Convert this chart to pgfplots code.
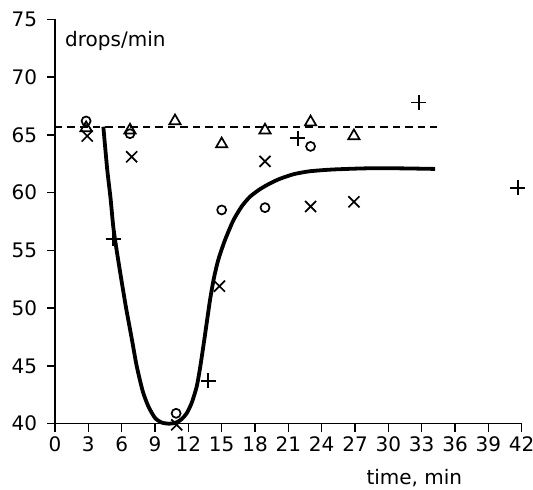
\documentclass[border=0pt]{standalone}
\usepackage{fontspec}
\setmainfont{DejaVu Sans}
\usepackage{pgfplots}
\pgfplotsset{compat=1.18}

\begin{document}
\fontsize{20}{24}\selectfont
\begin{tikzpicture}
\begin{axis}[
    scale only axis,
    width=466.7pt, height=404.4pt,
    xmin=0, xmax=42, ymin=40, ymax=75,
    axis lines=left,
    axis line style={-, line width=1.5pt},
    xtick={0,3,...,42},
    ytick={40,45,...,75},
    tick align=outside,
    major tick length=8pt,
    tick style={line width=1.5pt, black},
    /pgf/number format/assume math mode=true,
    ticklabel style={font=\fontsize{20}{24}\selectfont},
    yticklabel style={xshift=-3pt},
    xticklabel style={yshift=1.5pt},
    xlabel={time, min},
    xlabel style={at={(rel axis cs:0.77,0)}, anchor=base, yshift=-60.6pt, inner sep=0pt},
    ylabel={drops/min},
    ylabel style={rotate=-90, at={(axis cs:0.9,72.63)}, anchor=base west, inner sep=0pt},
    clip=false,
]
% control level (dashed)
\addplot[black, line width=1.5pt, dash pattern=on 7.5pt off 5pt] coordinates {(0,65.7) (34.35,65.7)};
% fitted curve
\addplot[black, line width=3.8pt, smooth, tension=0.4] coordinates {
    (4.35,65.7) (4.7,62) (5.0,59.5) (5.25,57) (5.55,55) (6.0,52.3) (6.4,50)
    (6.9,47.4) (7.35,45) (7.9,42.8) (8.4,41.5) (9.0,40.5) (9.6,40.1) (10.3,40.0)
    (10.9,40.1) (11.4,40.4) (11.85,40.9) (12.3,41.8) (12.75,43.2) (13.05,44.8)
    (13.35,46.7) (13.65,48.7) (13.95,50.7) (14.3,52.6) (14.7,54.2) (15.3,55.9)
    (16.05,57.6) (16.8,58.8) (17.55,59.65) (18.45,60.3) (19.35,60.8) (20.25,61.2)
    (21.5,61.6) (22.95,61.85) (25,62.0) (28,62.1) (31,62.1) (34.2,62.05)
};
% circles
\addplot[only marks, mark=o, mark size=4.5pt, line width=1.7pt] coordinates {
    (2.8,66.2) (6.75,65.1) (10.9,40.9) (15,58.5) (18.9,58.7) (23,64.0)
};
% triangles
\addplot[only marks, mark=triangle, mark size=6.5pt, line width=1.7pt] coordinates {
    (2.8,65.6) (6.75,65.4) (10.8,66.2) (15,64.2) (18.9,65.4) (23,66.1) (26.9,64.9)
};
% crosses
\addplot[only marks, mark=x, mark size=7.8pt, line width=1.7pt] coordinates {
    (2.9,64.9) (6.9,63.1) (10.95,39.9) (14.8,51.9) (18.9,62.7) (23,58.8) (26.9,59.2)
};
% pluses
\addplot[only marks, mark=+, mark size=7.5pt, line width=1.7pt] coordinates {
    (5.25,56.0) (13.8,43.7) (21.85,64.7) (32.75,67.8) (41.65,60.4)
};
\coordinate (bl) at (axis cs:0,40);
\coordinate (tr) at (axis cs:42,75);
\end{axis}
\pgfresetboundingbox
\path[use as bounding box] ([shift={(-55pt,-65.3pt)}]bl) rectangle ([shift={(11.3pt,19.3pt)}]tr);
\end{tikzpicture}
\end{document}
